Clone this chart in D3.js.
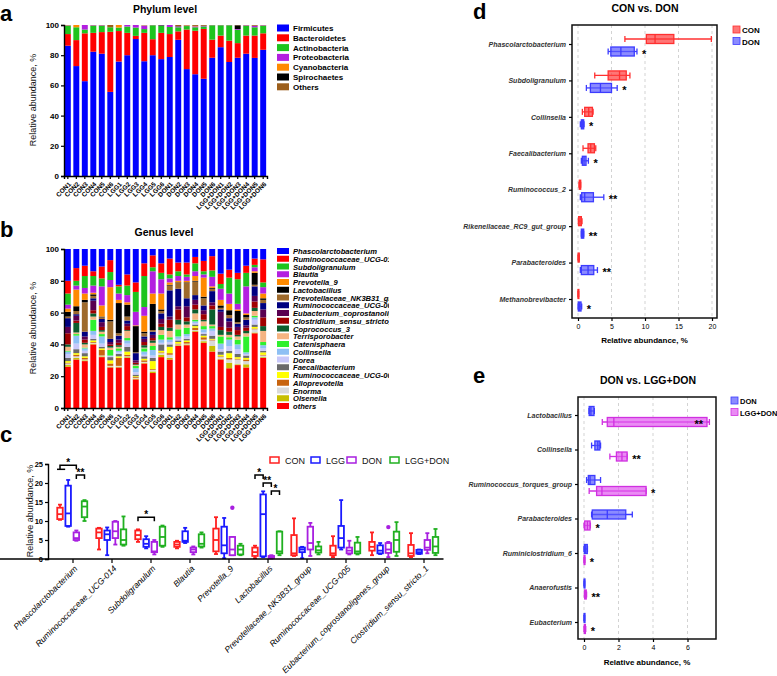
<!DOCTYPE html>
<html>
<head>
<meta charset="utf-8">
<script src="https://cdn.jsdelivr.net/npm/d3@7"></script>
<style>
body { margin: 0; background: #fff; }
svg { font-family: "Liberation Sans", Arial, sans-serif; }
</style>
</head>
<body>
<div id="fig"></div>
<script>
// ---------- data ----------
var samples = ["CON1","CON2","CON3","CON4","CON5","CON6","LGG1","LGG2","LGG3","LGG4","LGG5","LGG6",
  "DON1","DON2","DON3","DON4","DON5","DON6","LGG+DON1","LGG+DON2","LGG+DON3","LGG+DON4","LGG+DON5","LGG+DON6"];

// panel a, phylum level (%)
var phyla = ["Firmicutes","Bacteroidetes","Actinobacteria","Proteobacteria","Cyanobacteria","Spirochaetes","Others"];
var phylaColors = ["#0000ff","#ff0000","#1ec41e","#b31fe0","#ff8a00","#000000","#9c5f1c"];
var firmicutes     = [86.3,72.8,62.8,82.3,81,55.7,75.8,80,90.7,76,80,77.4,78.8,90.2,70.8,67.4,64.4,78.3,85.3,75.5,78.3,81,78.2,83.6];
var bacteroidetes  = [7.7,17.2,31.7,12.5,14.3,39.8,20.2,14.8,2.1,18.8,10.6,17.4,15.2,5.6,26.2,28.8,33,12,7.7,14.1,9.7,12,14.8,10.9];
var actinobacteria = [5.5,8.5,2.5,4.7,4.2,3,2.3,4.2,5.5,2.5,9.2,4.7,4.7,2.7,2.3,2.3,1.6,9.5,6.8,10.2,8.8,6.5,5.5,5];
var proteobacteria = [0.2,0,3,0.3,0.3,0,0,1,1.7,2.2,0.1,0.2,1.3,0.5,0.2,0.6,0.3,0.1,0.1,0.1,0.5,0.3,1,0.3];
var cyanobacteria  = [0.1,1.5,0,0,0,0,1.7,0,0,0,0,0,0,0,0.2,0.3,0,0,0,0,0,0,0,0];
var spirochaetes   = [0,0,0,0,0,0,0,0,0,0,0,0.3,0,0.2,0,0,0.2,0,0,0,2.5,0,0,0];
var otherPhyla     = [0.2,0,0,0.2,0.2,1.5,0,0,0,0.3,0.1,0,0,1,0.5,0.9,0.5,0.1,0.1,0.1,0.2,0.2,0.5,0.2];

// panel b, genus level (%), legend order (top of stack first)
var genera = ["Phascolarctobacterium","Ruminococcaceae_UCG-014","Subdoligranulum","Blautia","Prevotella_9","Lactobacillus",
  "Prevotellaceae_NK3B31_group","Ruminococcaceae_UCG-005","Eubacterium_coprostanoligenes_group","Clostridium_sensu_stricto_1",
  "Coprococcus_3","Terrisporobacter","Catenisphaera","Collinsella","Dorea","Faecalibacterium","Ruminococcaceae_UCG-008",
  "Alloprevotella","Enorma","Olsenella","others"];
var generaColors = ["#0000ff","#ff0000","#1ec41e","#b31fe0","#ff8a00","#000000","#9e6a2c","#000080","#5a0050","#a00000",
  "#0b5e2e","#f5b482","#2ef02e","#8ec0f4","#c8c8fa","#6b6b6b","#ffff00","#c8640f","#d9d9d9","#c8bf00","#ff0000"];
var phascolarctobacterium = [20,12,10.5,14,11,7,22.5,16,21,9,4,9,6,8.5,8.5,5,7.5,4.5,15.5,13,15,10.5,6,6.5];
var ucg014        = [8,8,6.5,3,7.5,7.5,1,7,6,8,7.5,6,10,5.5,7.5,4,6.5,9,6.5,5,4,4.5,4,14.5];
var subdoli       = [7,3,7.5,6,5,5,4.5,6,12.5,19.5,2.5,4,2.5,3,1.5,5,2,4,3,10,15.5,8.5,1.5,3];
var blautia       = [2.5,2.5,3.5,4.5,12,4.5,4,4.5,8.5,5.5,14,9,2.5,3,2.5,3,2,6,7,6.5,3.5,17,2.5,4];
var prevotella9   = [2,10.5,4,1,7,20.5,2,1.5,0.5,10,6.5,10,1.5,1,1,3,12,1,3.5,4,1,1,1,3];
var lactobacillus = [3,3,1.5,1,0.5,1,19,7.5,16.5,1,16.5,1,0.5,0.5,0.5,0.5,1,0.5,1.5,3,7,1.5,7.5,1];
var nk3b31        = [1,2,18.5,1.5,1,11,1.5,2.5,0.5,2,1,1.5,3,3.5,9.5,8.5,4.5,1.5,1,2,1,1.5,1,2];
var ucg005        = [5.5,1,3,1.5,2,2,2.5,2,4.5,1.5,2,3.5,16.5,11,5,3,3,7,1.5,2,2,3.5,6,4];
var eubacterium   = [4,3,2,6,3,1.5,2,1.5,1.5,2,2,3,2,2,7,3,2.5,2,9.5,4,2,1.5,3.5,5];
var clostridium   = [7,1.5,2,2,2,1,1.5,2.5,1,2,1.5,2,5,6.5,2.5,3,3.5,2.5,2,2.5,3,2,4,5.5];
var coprococcus   = [1.5,6,1,2,1,1,1,0.5,0.5,1.5,1.5,2,2,3,2,2.5,1,9.5,3,2,1,1.5,2,3];
var terrisporo    = [2.5,1,2,2,1.5,1.5,1,4.5,0.5,0.5,2,3,4,3,2,4,3,1,1,1.5,2,2,3,7];
var catenisphaera = [0.5,1,0.5,7,1.5,3.5,1.5,1.5,1.5,2,2.5,3,1.5,4.5,4,1,2,1.5,4.5,1.5,3,10,1,2];
var collinsella   = [1.5,5,1.5,2.5,4.5,0.5,1,2,2.5,2,3.5,2,1.5,1.5,1.5,1,2,1.5,3.5,4,3,1,1.5,2];
var dorea         = [2.5,3.5,1.5,2.5,2,0.5,1,2,1.5,1,1.5,1,1.5,1,1.5,1,1,3,1.5,3,3,1,3,1.5];
var faecali       = [2,2.5,2,1,1,2,1.5,3,1,1.5,2,4,1.5,1,1,1,1,2,2,1.5,2,1.5,1.5,1];
var ucg008        = [1,1,1,1,1,2,1,2,0.5,1,5,1,4,1,1,1,1,0.5,1,3,1,1,1,1.5];
var alloprevotella= [0.5,1,1,0.5,3.5,1.5,5,1,0.5,1,0.5,0.5,1,0.5,1,1.5,1.5,0.5,0.5,1,0.5,1,0.5,0.5];
var enorma        = [1,1,0.5,0.5,0.5,0.5,0.5,0.5,0.5,0.5,1,1,2,0.5,0.5,0.5,1,3.5,1,2,3,2,2,1];
var olsenella     = [1,1,0.5,0.5,0.5,0.5,0.5,0.5,0.5,0.5,1,1.5,1,0.5,0.5,0.5,1,3.5,0.5,3.5,0.5,2,0.5,0.5];
var otherGenera   = [26,30.5,29.5,40,32,25.5,25.5,31.5,18,28,22,32,30.5,39,39.5,48,41,35.5,30.5,25,27,25.5,47,31.5];

// panel c, box stats [min, q1, median, q3, max] (%)
var cGenera = ["Phascolarctobacterium","Ruminococcaceae_UCG-014","Subdoligranulum","Blautia","Prevotella_9","Lactobacillus",
  "Prevotellaceae_NK3B31_group","Ruminococcaceae_UCG-005","Eubacterium_coprostanoligenes_group","Clostridium_sensu_stricto_1"];
var cGroups = ["CON","LGG","DON","LGG+DON"];
var cColors = ["#ff2020","#1a1aff","#a81fe0","#20b020"];
var cCON = [[10.3,10.5,11.8,13.5,14.3],[2.5,5.5,7,8,8.2],[4.5,5.2,6.3,7.5,7.8],[2.8,3.2,3.8,4.5,4.8],[1.3,2,5,8,11],
  [0.2,0.8,1.8,3,3.5],[0.8,1,1.5,6.3,10.7],[0.5,1,1.5,3.5,6],[1,2.2,3.2,4.5,7],[0.5,0.8,1.5,3.7,6.8]];
var cLGG = [[8.5,8.7,12,19.3,20.8],[1,5,6.5,7.5,8.3],[2.8,3.2,4,5.2,6],[4.2,4.5,4.8,7.3,8.2],[0.2,1.5,3.6,8.5,10.8],
  [0.5,0.7,11.8,17,17.8],[0.2,1.8,2.5,3,3.2],[2.5,3,5.5,8.7,15.5],[1.3,1.5,2.2,3.6,4.2],[1.3,1.4,1.8,2.4,2.5]];
var cDON = [[4.8,5,5.5,7,7.5],[3.8,5.5,7.3,9.8,10],[1.2,1.8,2,4.5,5],[1.2,1.8,2.5,3,3.3],[1,1,2.5,5.8,5.8],
  [0.1,0.3,0.5,0.8,1],[0.8,2.5,4.2,8.5,9.5],[1.2,1.5,2.2,3,4.8],[0.5,1.6,2.5,4.2,4.5],[1.5,2.4,3,5,6.8]];
var cLGGDON = [[10,11,13.8,15.2,15.5],[3.5,3.8,5,7.8,11.2],[3.2,3.5,5.8,8.5,8.8],[3,3.3,4,6.5,7],[1,1.2,2.5,3.5,4],
  [1,1.5,2,7.2,7.3],[1.2,1.7,2.3,3.3,4.5],[1.2,1.5,2,4.3,5.8],[0.8,1.9,5,7.2,9.7],[1,1.6,3.3,5.8,7.9]];
var cOutliers = [{genus: 4, group: 2, value: 13.5}, {genus: 8, group: 2, value: 8.4}];
var cBrackets = [
  {genus: 0, from: 0, to: 2, level: 24.7, label: "*"},
  {genus: 0, from: 2, to: 3, level: 22.1, label: "**"},
  {genus: 2, from: 0, to: 2, level: 11, label: "*"},
  {genus: 5, from: 0, to: 1, level: 22.1, label: "*"},
  {genus: 5, from: 1, to: 2, level: 20, label: "**"},
  {genus: 5, from: 2, to: 3, level: 17.9, label: "*"}
];

// panel d
var dCats = ["Phascolarctobacterium","Subdoligranulum","Collinsella","Faecalibacterium","Ruminococcus_2",
  "Rikenellaceae_RC9_gut_group","Parabacteroides","Methanobrevibacter"];
var dCON = [[7,10.2,11.5,14.3,19.9],[2.5,4.5,6.2,7.2,7.75],[0.65,1,1.6,2.15,2.25],[0.75,1.5,1.9,2.45,2.65],
  [0.15,0.2,0.3,0.4,0.4],[0.05,0.1,0.3,0.5,0.6],[0,0.02,0.1,0.18,0.2],[0,0.01,0.05,0.08,0.1]];
var dDON = [[4.5,4.9,6.4,8.4,8.8],[1.25,1.85,3.35,5,5.85],[0.35,0.5,0.7,0.85,0.9],[0.5,0.65,0.9,1.2,1.55],
  [0.35,0.55,1,2.3,3.85],[0.5,0.5,0.7,0.85,0.85],[0.35,0.5,1.5,2.35,2.9],[0.02,0.05,0.25,0.45,0.55]];
var dSig = ["*","*","*","*","**","**","**","*"];

// panel e
var eCats = ["Lactobacillus","Collinsella","Ruminococcus_torques_group","Parabacteroides","Ruminiclostridium_6","Anaerofustis","Eubacterium"];
var eDON = [[0.29,0.3,0.4,0.58,0.6],[0.44,0.63,0.8,0.92,0.96],[0.15,0.25,0.35,0.63,0.96],[0.44,0.48,1.35,2.42,2.8],
  [0,0.02,0.1,0.19,0.2],[0,0.01,0.02,0.03,0.04],[0,0.01,0.02,0.03,0.04]];
var eLGGDON = [[1.06,1.35,1.73,7.13,7.27],[1.5,1.88,2.2,2.5,2.5],[0.3,0.73,1.04,3.6,3.6],[0,0.04,0.2,0.35,0.37],
  [0,0.01,0.02,0.04,0.05],[0.02,0.04,0.08,0.13,0.15],[0,0.02,0.05,0.08,0.1]];
var eSig = ["**","**","*","*","*","**","*"];

// ---------- drawing ----------
var svg = d3.select("#fig").append("svg").attr("width", 777).attr("height", 676);

function styleAxis(g, size, weight, style) {
  g.attr("font-family", null).attr("font-size", null);
  g.select(".domain").attr("stroke", "#000").attr("stroke-width", 1.4);
  g.selectAll(".tick line").attr("stroke", "#000").attr("stroke-width", 1.2);
  g.selectAll(".tick text").attr("font-size", size).attr("font-weight", weight || "normal")
    .attr("font-style", style || "normal").attr("fill", "#000");
}

function panelLetter(t, x, y) {
  svg.append("text").attr("x", x).attr("y", y).attr("font-size", 22).attr("font-weight", "bold").text(t);
}

function yTitle(t, x, y, size, weight) {
  svg.append("text").attr("transform", `translate(${x},${y}) rotate(-90)`).attr("text-anchor", "middle")
    .attr("font-size", size).attr("font-weight", weight || "normal").attr("fill", "#111").text(t);
}

// stacked bar panels a and b
function stackedPanel(top, bottom, keys, colors, values) {
  var rows = samples.map(function(s, i) {
    var r = {sample: s};
    keys.forEach(function(k, j) { r[k] = values[j][i]; });
    return r;
  });
  var x = d3.scaleBand().domain(samples).range([64, 267]).paddingInner(0.3).paddingOuter(0.1);
  var y = d3.scaleLinear().domain([0, 100]).range([bottom, top]);
  var series = d3.stack().keys(keys)(rows);
  var g = svg.append("g");
  g.selectAll("g.layer").data(series).enter().append("g")
    .attr("fill", function(d, i) { return colors[i]; })
    .selectAll("rect").data(function(d) { return d; }).enter().append("rect")
    .attr("x", function(d) { return x(d.data.sample); })
    .attr("width", x.bandwidth())
    .attr("y", function(d) { return y(Math.min(d[1], 100)); })
    .attr("height", function(d) { return Math.max(0, y(d[0]) - y(Math.min(d[1], 100))); });

  var ya = g.append("g").attr("transform", "translate(64,0)")
    .call(d3.axisLeft(y).tickValues([0, 20, 40, 60, 80, 100]).tickSize(3).tickPadding(2));
  styleAxis(ya, 8, "bold");
  var xa = g.append("g").attr("transform", `translate(0,${bottom})`)
    .call(d3.axisBottom(x).tickSize(3));
  styleAxis(xa, 6.5, "bold");
  xa.selectAll(".tick text").attr("x", 0).attr("y", 0).attr("dy", "0.35em")
    .attr("transform", "translate(2,7) rotate(-45)").style("text-anchor", "end");
}

// panel a
panelLetter("a", 0, 21);
svg.append("text").attr("x", 165).attr("y", 13).attr("text-anchor", "middle")
  .attr("font-size", 10.5).attr("font-weight", "bold").text("Phylum level");
stackedPanel(25, 176, phyla, phylaColors,
  [firmicutes, bacteroidetes, actinobacteria, proteobacteria, cyanobacteria, spirochaetes, otherPhyla]);
yTitle("Relative abundance, %", 36, 100, 9);
var legA = svg.append("g");
phyla.forEach(function(p, i) {
  var yy = 28 + i * 9.8;
  legA.append("rect").attr("x", 277).attr("y", yy - 3.5).attr("width", 12).attr("height", 7).attr("fill", phylaColors[i]);
  legA.append("text").attr("x", 293).attr("y", yy + 3).attr("font-size", 8).attr("font-weight", "bold").text(p);
});

// panel b
panelLetter("b", 0, 237);
svg.append("text").attr("x", 164).attr("y", 236).attr("text-anchor", "middle")
  .attr("font-size", 10.5).attr("font-weight", "bold").text("Genus level");
var gValues = [phascolarctobacterium, ucg014, subdoli, blautia, prevotella9, lactobacillus, nk3b31, ucg005,
  eubacterium, clostridium, coprococcus, terrisporo, catenisphaera, collinsella, dorea, faecali, ucg008,
  alloprevotella, enorma, olsenella, otherGenera];
stackedPanel(249, 408, genera.slice().reverse(), generaColors.slice().reverse(), gValues.slice().reverse());
yTitle("Relative abundance, %", 36, 328, 9);
svg.append("clipPath").attr("id", "clipB").append("rect").attr("x", 0).attr("y", 240).attr("width", 389).attr("height", 180);
var legB = svg.append("g").attr("clip-path", "url(#clipB)");
genera.forEach(function(gname, i) {
  var yy = 251 + i * 7.75;
  legB.append("rect").attr("x", 277).attr("y", yy - 3).attr("width", 12).attr("height", 6).attr("fill", generaColors[i]);
  legB.append("text").attr("x", 293).attr("y", yy + 3).attr("font-size", 7.6).attr("font-weight", "bold")
    .attr("font-style", "italic").text(gname);
});

// panel c
panelLetter("c", 0, 442);
var cy = d3.scaleLinear().domain([0, 25]).range([559, 464]);
var cx0 = d3.scaleBand().domain(cGenera).range([53.5, 443.5]);
var cx1 = d3.scalePoint().domain(cGroups).range([6.5, 31]);
var cStats = [cCON, cLGG, cDON, cLGGDON];
function cPos(gi, k) { return cx0(cGenera[gi]) + cx1(cGroups[k]); }

var gc = svg.append("g");
cGenera.forEach(function(gname, gi) {
  cGroups.forEach(function(grp, k) {
    var v = cStats[k][gi], xc = cPos(gi, k), col = cColors[k], bw = 5.5;
    var b = gc.append("g").attr("stroke", col).attr("stroke-width", 1.8).attr("fill", "none");
    b.append("line").attr("x1", xc).attr("x2", xc).attr("y1", cy(v[0])).attr("y2", cy(v[4]));
    b.append("line").attr("x1", xc - 2).attr("x2", xc + 2).attr("y1", cy(v[4])).attr("y2", cy(v[4]));
    b.append("line").attr("x1", xc - 2).attr("x2", xc + 2).attr("y1", cy(v[0])).attr("y2", cy(v[0]));
    b.append("rect").attr("x", xc - bw / 2).attr("width", bw).attr("y", cy(v[3]))
      .attr("height", Math.max(1, cy(v[1]) - cy(v[3]))).attr("fill", "#fff");
    b.append("line").attr("x1", xc - bw / 2).attr("x2", xc + bw / 2).attr("y1", cy(v[2])).attr("y2", cy(v[2]));
  });
});
cOutliers.forEach(function(o) {
  gc.append("circle").attr("cx", cPos(o.genus, o.group)).attr("cy", cy(o.value)).attr("r", 2.2).attr("fill", cColors[o.group]);
});
cBrackets.forEach(function(br) {
  var x1 = cPos(br.genus, br.from), x2 = cPos(br.genus, br.to), yl = cy(br.level);
  gc.append("path").attr("d", `M${x1},${yl + 4}V${yl}H${x2}V${yl + 4}`)
    .attr("fill", "none").attr("stroke", "#000").attr("stroke-width", 1.5);
  gc.append("text").attr("x", (x1 + x2) / 2).attr("y", yl + 1).attr("text-anchor", "middle")
    .attr("font-size", 10).attr("font-weight", "bold").text(br.label);
});
// small lower bar under the first bracket
gc.append("path").attr("d", `M${cPos(0, 0) - 3},${cy(23.6)}H${cPos(0, 1) - 3}`)
  .attr("stroke", "#000").attr("stroke-width", 1.5);

var cya = gc.append("g").attr("transform", "translate(48,0)")
  .call(d3.axisLeft(cy).tickValues([0, 5, 10, 15, 20, 25]).tickSize(3).tickPadding(2));
styleAxis(cya, 7.5, "bold");
var cxa = gc.append("g").attr("transform", "translate(0,559)")
  .call(d3.axisBottom(cx0).tickSize(4).tickSizeOuter(0));
styleAxis(cxa, 8.5, "normal", "italic");
cxa.select(".domain").attr("d", "M-5,0H443.5");
cxa.selectAll(".tick text").attr("x", 0).attr("y", 0).attr("dy", "0.35em")
  .attr("transform", "translate(3,8) rotate(-45)").style("text-anchor", "end");
yTitle("Relative abundance, %", 33, 511, 9);

cGroups.forEach(function(grp, k) {
  var lx = [270, 311, 347, 390][k];
  gc.append("rect").attr("x", lx).attr("y", 457).attr("width", 9).attr("height", 6)
    .attr("fill", "none").attr("stroke", cColors[k]).attr("stroke-width", 1.5);
  gc.append("text").attr("x", lx + 15).attr("y", 463.5).attr("font-size", 9).attr("fill", "#111").text(grp);
});

// horizontal box panels d and e
function hboxPanel(o) {
  var g = svg.append("g");
  var x = d3.scaleLinear().domain(o.domain).range(o.range);
  var y = d3.scalePoint().domain(o.cats).range(o.yr);
  g.append("text").attr("x", o.titleX).attr("y", o.titleY).attr("text-anchor", "middle")
    .attr("font-size", 10.5).attr("font-weight", "bold").text(o.title);
  o.ticks.forEach(function(t) {
    g.append("line").attr("x1", x(t)).attr("x2", x(t)).attr("y1", o.frame[1]).attr("y2", o.frame[3])
      .attr("stroke", "#c8c8c8").attr("stroke-dasharray", "3,3").attr("stroke-width", 0.8);
  });
  o.cats.forEach(function(c, i) {
    [0, 1].forEach(function(s) {
      var v = o.stats[s][i], yc = y(c) + o.offsets[s], h = 9;
      var b = g.append("g").attr("stroke", o.strokes[s]).attr("stroke-width", 1.3);
      b.append("line").attr("x1", x(v[0])).attr("x2", x(v[4])).attr("y1", yc).attr("y2", yc);
      b.append("line").attr("x1", x(v[0])).attr("x2", x(v[0])).attr("y1", yc - 3).attr("y2", yc + 3);
      b.append("line").attr("x1", x(v[4])).attr("x2", x(v[4])).attr("y1", yc - 3).attr("y2", yc + 3);
      b.append("rect").attr("x", x(v[1])).attr("y", yc - h / 2).attr("width", Math.max(0.8, x(v[3]) - x(v[1])))
        .attr("height", h).attr("fill", o.fills[s]);
      b.append("line").attr("x1", x(v[2])).attr("x2", x(v[2])).attr("y1", yc - h / 2).attr("y2", yc + h / 2);
    });
    var sv = o.stats[1][i], sy = y(c) + o.offsets[1] + 6;
    var sx = x(sv[4]) + 5, anchor = "start";
    if (sx + 14 > o.frame[2]) { sx = x(sv[3]) - 4; anchor = "end"; }
    g.append("text").attr("x", sx).attr("y", sy).attr("text-anchor", anchor)
      .attr("font-size", 11).attr("font-weight", "bold").text(o.sig[i]);
  });
  g.append("rect").attr("x", o.frame[0]).attr("y", o.frame[1])
    .attr("width", o.frame[2] - o.frame[0]).attr("height", o.frame[3] - o.frame[1])
    .attr("fill", "none").attr("stroke", "#111").attr("stroke-width", 1.5);
  var xa = g.append("g").attr("transform", `translate(0,${o.frame[3]})`)
    .call(d3.axisBottom(x).tickValues(o.ticks).tickFormat(d3.format("d")).tickSize(3).tickSizeOuter(0));
  styleAxis(xa, 7, "normal");
  xa.select(".domain").remove();
  var ya = g.append("g").attr("transform", `translate(${o.frame[0]},0)`)
    .call(d3.axisLeft(y).tickSize(3).tickPadding(3));
  styleAxis(ya, 7, "bold", "italic");
  ya.select(".domain").remove();
  ya.selectAll(".tick text").attr("fill", "#333");
  g.append("text").attr("x", (o.frame[0] + o.frame[2]) / 2).attr("y", o.xTitleY).attr("text-anchor", "middle")
    .attr("font-size", 8).attr("font-weight", "bold").text("Relative abundance, %");
  o.legend.forEach(function(name, s) {
    var ly = o.legendY + s * 11.5;
    g.append("rect").attr("x", o.legendX).attr("y", ly - 6).attr("width", 7).attr("height", 7)
      .attr("fill", o.fills[s]).attr("stroke", o.strokes[s]).attr("stroke-width", 0.8);
    g.append("text").attr("x", o.legendX + 9).attr("y", ly + 1).attr("font-size", o.legendSize)
      .attr("font-weight", "bold").text(name);
  });
}

panelLetter("d", 473, 19);
hboxPanel({
  title: "CON vs. DON", titleX: 645, titleY: 12,
  cats: dCats, stats: [dCON, dDON], sig: dSig,
  domain: [0, 20], range: [578, 712], ticks: [0, 5, 10, 15, 20],
  yr: [44, 299], offsets: [-5, 7.5], frame: [572, 25, 717, 318], xTitleY: 343,
  fills: ["rgba(255,60,60,0.7)", "rgba(90,90,255,0.7)"], strokes: ["#ff3030", "#3c3cff"],
  legend: ["CON", "DON"], legendX: 733, legendY: 32, legendSize: 8
});

panelLetter("e", 473, 383);
hboxPanel({
  title: "DON vs. LGG+DON", titleX: 648, titleY: 384,
  cats: eCats, stats: [eDON, eLGGDON], sig: eSig,
  domain: [0, 6], range: [584, 687.5], ticks: [0, 2, 4, 6],
  yr: [415, 622], offsets: [-4, 7], frame: [578, 397, 716, 639], xTitleY: 665,
  fills: ["rgba(90,90,255,0.7)", "rgba(225,90,240,0.7)"], strokes: ["#3c3cff", "#d030e0"],
  legend: ["DON", "LGG+DON"], legendX: 731, legendY: 403, legendSize: 7.5
});
</script>
</body>
</html>
